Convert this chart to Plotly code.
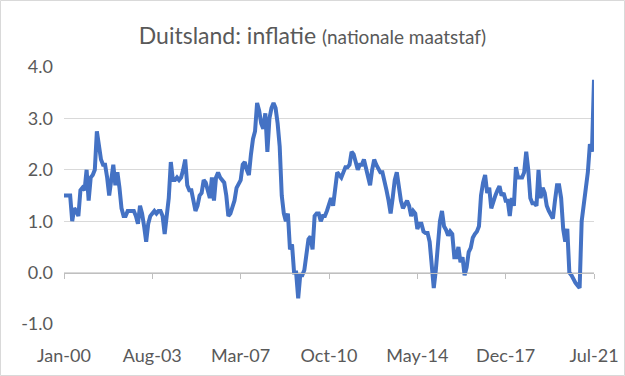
import plotly.graph_objects as go
import pandas as pd

# Monthly categories Jan-2000 .. Jul-2021
months = pd.date_range("2000-01-01", "2021-07-01", freq="MS").strftime("%b-%y").tolist()

# German CPI inflation, % y/y
inflation = [
    1.5, 1.5, 1.5, 1.5, 1.0, 1.25, 1.2, 1.1, 1.6, 1.65, 1.6, 2.0,          # 2000
    1.4, 1.85, 1.9, 2.0, 2.75, 2.5, 2.2, 2.1, 2.1, 1.85, 1.5, 1.8,         # 2001
    2.1, 1.7, 1.95, 1.65, 1.25, 1.1, 1.1, 1.2, 1.2, 1.2, 1.2, 1.1,         # 2002
    0.95, 1.3, 1.15, 0.9, 0.6, 0.95, 1.1, 1.15, 1.2, 1.15, 1.2, 1.2,       # 2003
    1.1, 0.75, 1.05, 1.45, 2.15, 1.8, 1.8, 1.85, 1.8, 1.85, 2.0, 2.2,      # 2004
    1.7, 1.6, 1.6, 1.35, 1.2, 1.3, 1.5, 1.55, 1.8, 1.75, 1.6, 1.45,        # 2005
    1.85, 1.4, 1.85, 1.95, 1.85, 1.8, 1.75, 1.5, 1.1, 1.15, 1.3, 1.4,      # 2006
    1.65, 1.75, 1.8, 2.1, 2.15, 2.0, 1.9, 2.3, 2.6, 2.75, 3.3, 3.15,       # 2007
    2.9, 2.8, 3.1, 2.35, 3.0, 3.2, 3.3, 3.2, 2.9, 2.45, 1.5, 1.15,         # 2008
    1.0, 1.15, 0.45, 0.55, 0.0, 0.0, -0.5, -0.05, -0.05, 0.05, 0.4, 0.65,  # 2009
    0.7, 0.45, 1.1, 1.15, 1.15, 1.0, 1.1, 1.1, 1.2, 1.3, 1.45, 1.3,        # 2010
    1.6, 1.95, 1.9, 1.85, 1.95, 2.05, 2.05, 2.1, 2.35, 2.3, 2.15, 2.0,     # 2011
    2.1, 2.1, 2.2, 2.05, 1.9, 1.7, 2.0, 2.2, 2.1, 2.0, 1.95, 1.95,         # 2012
    1.8, 1.6, 1.4, 1.15, 1.45, 1.8, 1.95, 1.6, 1.4, 1.25, 1.35, 1.4,       # 2013
    1.3, 1.1, 1.2, 1.15, 0.85, 0.95, 0.95, 0.8, 0.77, 0.77, 0.6, 0.15,     # 2014
    -0.3, 0.05, 0.45, 1.0, 1.2, 0.9, 0.83, 0.72, 0.8, 0.75, 0.3, 0.3,      # 2015
    0.5, 0.2, 0.3, -0.05, 0.1, 0.4, 0.48, 0.68, 0.75, 0.8, 0.9, 1.5,       # 2016
    1.75, 1.9, 1.55, 1.65, 1.25, 1.4, 1.5, 1.6, 1.68, 1.5, 1.55, 1.4,      # 2017
    1.4, 1.1, 1.45, 1.3, 2.05, 1.85, 1.85, 1.85, 1.95, 2.35, 2.0, 1.45,    # 2018
    1.35, 1.35, 1.3, 2.0, 1.45, 1.65, 1.55, 1.3, 1.2, 1.1, 1.05, 1.4,      # 2019
    1.7, 1.7, 1.45, 0.85, 0.6, 0.85, 0.0, -0.05, -0.15, -0.2, -0.25, -0.3, # 2020
    1.0, 1.35, 1.7, 1.95, 2.5, 2.35, 3.75,                                 # 2021
]

x_tick_labels = ["Jan-00", "Aug-03", "Mar-07", "Oct-10", "May-14", "Dec-17", "Jul-21"]
y_tick_values = [-1, 0, 1, 2, 3, 4]
y_tick_labels = ["-1.0", "0.0", "1.0", "2.0", "3.0", "4.0"]

W, H = 625, 376
L, R, T, B = 64, 31, 67, 52
pw, ph = W - L - R, H - T - B
TXT = "#595959"
FONT = "Lato"

fig = go.Figure(
    go.Scatter(
        x=months, y=inflation, mode="lines",
        line=dict(color="#4472C4", width=4),
        hoverinfo="skip",
    )
)

fig.update_layout(
    width=W, height=H,
    margin=dict(l=L, r=R, t=T, b=B, autoexpand=False),
    paper_bgcolor="white", plot_bgcolor="white",
    showlegend=False,
    font=dict(family=FONT, color=TXT),
    title=dict(
        text="Duitsland: inflatie <span style='font-size:19px'>(nationale maatstaf)</span>",
        font=dict(family=FONT, size=23, color=TXT),
        x=0.5, xanchor="center", xref="container",
        y=1 - 36 / H, yanchor="middle", yref="container",
    ),
    xaxis=dict(
        type="category",
        range=[0, len(months) - 1],
        anchor="free", position=0.2,
        showline=True, linecolor="#bfbfbf", linewidth=1,
        ticks="outside", ticklen=5, tickcolor="#bfbfbf", tickwidth=1,
        tickvals=x_tick_labels, ticktext=x_tick_labels,
        tickfont=dict(family=FONT, size=18, color=TXT),
        ticklabelstandoff=62,
        showgrid=False, zeroline=False, automargin=False,
    ),
    yaxis=dict(
        range=[-1, 4],
        tickvals=y_tick_values, ticktext=y_tick_labels,
        tickfont=dict(family=FONT, size=18, color=TXT),
        showgrid=True, gridcolor="#d9d9d9", gridwidth=1,
        zeroline=False, showline=False, ticks="",
        ticklabelstandoff=10, automargin=False,
    ),
    shapes=[dict(
        type="rect", xref="paper", yref="paper",
        x0=(0.5 - L) / pw, x1=(W - 0.5 - L) / pw,
        y0=-(B - 0.5) / ph, y1=1 + (T - 0.5) / ph,
        line=dict(color="#d9d9d9", width=1), fillcolor="rgba(0,0,0,0)",
        layer="below",
    )],
)

fig.write_html(
    "out.html",
    config={"displayModeBar": False, "staticPlot": True},
    post_script="document.body.style.margin='0';document.body.style.overflow='hidden';",
)
